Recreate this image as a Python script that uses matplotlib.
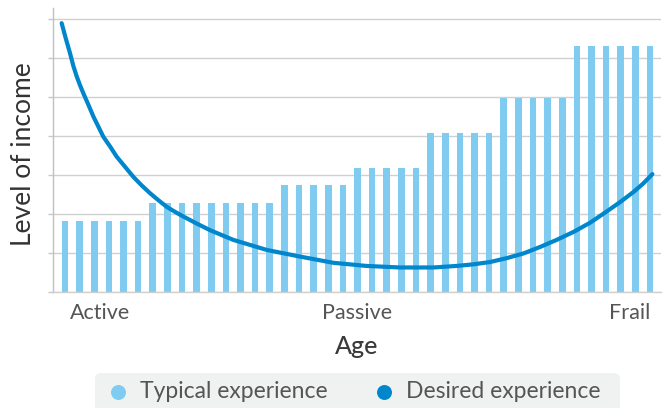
import numpy as np
import matplotlib.pyplot as plt
from matplotlib.patches import FancyBboxPatch

plt.rcParams['font.family'] = ['Lato', 'DejaVu Sans']

# typical income: flat steps, one level per group of bars
group_levels = [1.81, 2.28, 2.74, 3.18, 4.07, 4.98, 6.31]
group_sizes = [6, 9, 5, 5, 5, 5, 6]

# desired income curve, x in bar-index units
curve_x = [-0.23, 0.05, 0.34, 0.57, 0.80, 1.03, 1.25, 1.60, 1.94, 2.28, 2.62,
           3.08, 3.53, 4.10, 4.67, 5.24, 5.81, 6.38, 6.95, 7.52, 8.09, 9.00,
           9.91, 11.5, 13.8, 16.07, 18.35, 20.6, 22.9, 25.2, 26.78, 27.9,
           29.06, 30.2, 31.34, 32.5, 33.62, 34.8, 35.9, 37.0, 37.95, 38.9,
           39.54, 40.16]
curve_y = [6.90, 6.51, 6.13, 5.80, 5.53, 5.30, 5.10, 4.80, 4.50, 4.24, 3.98,
           3.73, 3.47, 3.21, 2.95, 2.73, 2.53, 2.35, 2.18, 2.05, 1.93, 1.75,
           1.58, 1.33, 1.07, 0.90, 0.74, 0.66, 0.62, 0.62, 0.66, 0.70,
           0.76, 0.86, 0.98, 1.15, 1.33, 1.54, 1.77, 2.05, 2.30, 2.57,
           2.78, 3.02]

stage_labels = ['Active', 'Passive', 'Frail']
stage_pos = [2.4, 20.0, 38.6]

legend_labels = ['Typical experience', 'Desired experience']
bar_color = '#7fccf0'
line_color = '#0086cc'

typical = np.repeat(group_levels, group_sizes)
idx = np.arange(len(typical))

fig = plt.figure(figsize=(6.67, 4.08), dpi=100)
ax = fig.add_axes([0.0795, 0.2853, 0.9115, 0.6951])

ax.bar(idx, typical, width=0.45, color=bar_color, zorder=2)
ax.plot(curve_x, curve_y, color=line_color, lw=3.0, solid_capstyle='round',
        solid_joinstyle='round', zorder=3)

ax.set_xlim(-0.82, 40.75)
ax.set_ylim(0, 7.29)
ax.set_yticks(np.arange(0, 8))
ax.set_yticklabels([])
ax.grid(axis='y', color='#d0d0d0', lw=1.0, zorder=0)
ax.tick_params(axis='y', length=3.6, width=1.0, color='#c8c8c8')
ax.set_xticks(stage_pos)
ax.set_xticklabels(stage_labels, fontsize=15.5, color='#555555')
ax.tick_params(axis='x', length=0, pad=8)

for s in ['top', 'right']:
    ax.spines[s].set_visible(False)
ax.spines['left'].set_color('#c0c0c0')
ax.spines['bottom'].set_color('#d0d0d0')
ax.spines['left'].set_linewidth(1.0)
ax.spines['bottom'].set_linewidth(1.0)

ax.set_ylabel('Level of income', fontsize=19, color='#333333')
ax.yaxis.set_label_coords(-0.049, 0.486)
ax.yaxis.label.set_va('center')
ax.set_xlabel('Age', fontsize=18, color='#3a3a3a', fontweight='medium')
ax.xaxis.set_label_coords(0.5, -0.194)
ax.xaxis.label.set_va('center')

# legend strip along the bottom, drawn in pixel coordinates
lax = fig.add_axes([0, 0, 1, 1])
lax.set_xlim(0, 667)
lax.set_ylim(408, 0)
lax.axis('off')
lax.add_patch(FancyBboxPatch((95, 373), 525, 45, boxstyle='round,pad=0,rounding_size=6',
                             fc='#f0f1f1', ec='none'))
for x, lab, c in zip([118, 384], legend_labels, [bar_color, line_color]):
    lax.scatter([x], [392], s=95, color=c, zorder=3)
    lax.text(x + 22, 392, lab, fontsize=16.5, color='#555555',
             va='center', ha='left')

fig.savefig('out.png', dpi=100)
